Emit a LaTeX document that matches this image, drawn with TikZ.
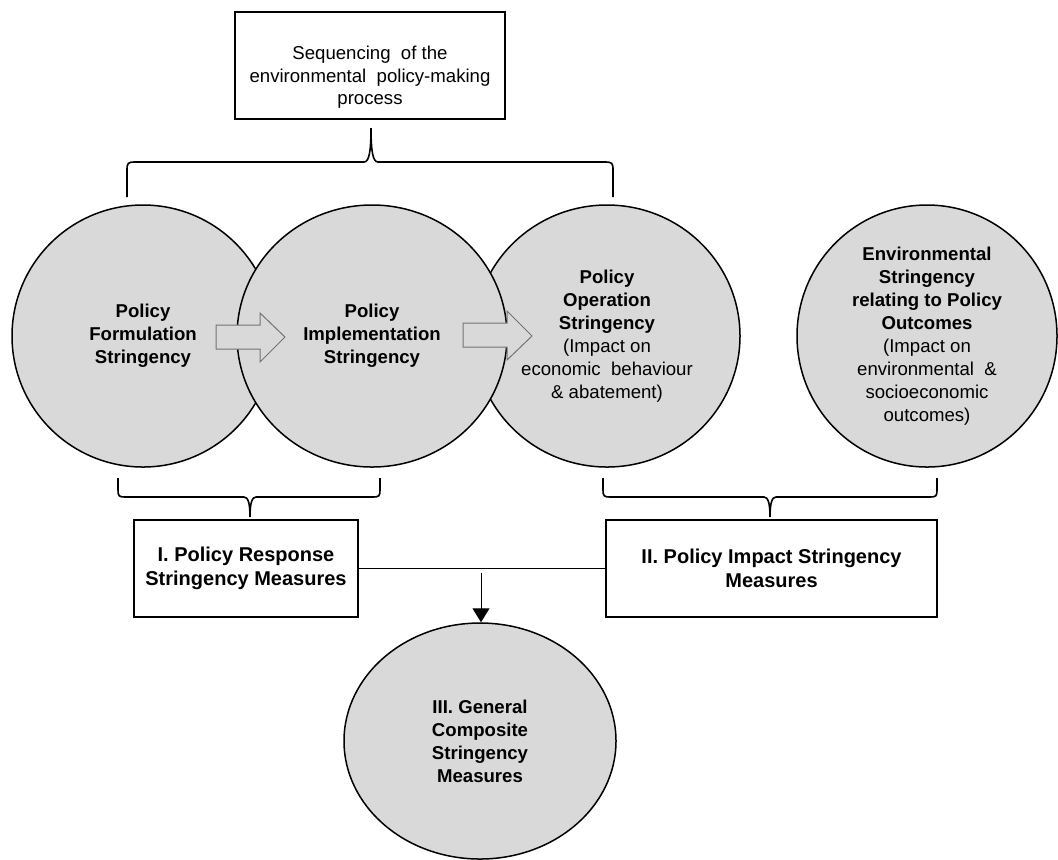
\documentclass[tikz,border=0pt]{standalone}
\usepackage{fontspec}
\setmainfont{Liberation Sans}
\usetikzlibrary{shapes.geometric,arrows.meta}
\definecolor{circlegray}{RGB}{217,217,217}
\definecolor{arrowgray}{RGB}{115,115,115}
\begin{document}
\begin{tikzpicture}[x=0.5pt,y=-0.5pt]
	\tikzset{circ/.style=
		{ellipse, draw=black, line width=0.75pt, fill=circlegray, inner sep=0pt, align=center, font=\fontsize{9.3}{11.5}\selectfont},
		box/.style={draw=black, line width=0.9pt, inner sep=0pt, align=center},
		bracket/.style={line width=0.8pt},
		blockarrow/.style={draw=arrowgray, fill=circlegray, line width=0.5pt}
	}
	\useasboundingbox (0,0) rectangle (1058,859);
	\node (root) at (370,65.5) [box, minimum width=135pt, minimum height=53.5pt] {};
	\node (roottext) at (370,77.5) [align=center, font=\fontsize{9.3}{11.25}\selectfont] {Sequencing~ of the\\environmental~ policy-making\\process};
	\node (l1n1) at (143,336) [circ, minimum width=131pt, minimum height=131pt, font=\fontsize{9.3}{11.5}\selectfont\bfseries] {Policy\\Formulation\\Stringency};
	\node (l1n3) at (607,336) [circ, minimum width=133pt, minimum height=131pt] {\textbf{Policy}\\\textbf{Operation}\\\textbf{Stringency}\\(Impact on\\economic~ behaviour\\\& abatement)};
	\node (l1n4) at (927,336) [circ, minimum width=130pt, minimum height=131pt] {\textbf{Environmental}\\\textbf{Stringency}\\\textbf{relating to Policy}\\\textbf{Outcomes}\\(Impact on\\environmental~ \&\\socioeconomic\\outcomes)};
	\node (l1n2) at (372,336) [circ, minimum width=135pt, minimum height=131pt, font=\fontsize{9.3}{11.5}\selectfont\bfseries] {Policy\\Implementation\\Stringency};
	\node (l2n1) at (246,568.5) [box, minimum width=112pt, minimum height=48.5pt, font=\fontsize{10}{12}\selectfont\bfseries] {I. Policy Response\\Stringency Measures};
	\node (l2n2) at (771.5,568.5) [box, minimum width=165.5pt, minimum height=48.5pt, font=\fontsize{10}{12}\selectfont\bfseries] {II. Policy Impact Stringency\\Measures};
	\node (l3n1) at (480,741) [circ, minimum width=136pt, minimum height=118pt, font=\fontsize{9.3}{11.5}\selectfont\bfseries] {III. General\\Composite\\Stringency\\Measures};
	\coordinate (split) at (481,573);

	\draw[blockarrow] (216,325) -- (260,325) -- (260,313) -- (285,337) -- (260,362) -- (260,349) -- (216,349) -- cycle;
	\draw[blockarrow] (463,323) -- (507,323) -- (507,311) -- (532,336) -- (507,360) -- (507,347) -- (463,347) -- cycle;

	\draw[bracket] (127,197) -- (127,170) .. controls (127,163) and (128,162) .. (135,162) -- (364,162) .. controls (369,162) and (371,152) .. (371,128) .. controls (371,152) and (373,162) .. (378,162) -- (605,162) .. controls (612,162) and (613,163) .. (613,170) -- (613,197);
	\draw[bracket] (118,478) -- (118,490) .. controls (118,496) and (119,497) .. (125,497) -- (244,497) .. controls (248,497) and (250,503) .. (250,517) .. controls (250,503) and (252,497) .. (256,497) -- (373,497) .. controls (379,497) and (380,496) .. (380,490) -- (380,478);
	\draw[bracket] (603,478) -- (603,490) .. controls (603,496) and (604,497) .. (610,497) -- (764,497) .. controls (768,497) and (770,503) .. (770,517) .. controls (770,503) and (772,497) .. (776,497) -- (930,497) .. controls (936,497) and (937,496) .. (937,490) -- (937,478);

	\draw[line width=0.5pt] (l2n1.east) -- (l2n2.west);
	\draw[line width=0.5pt, -{Triangle[width=8.5pt,length=7pt]}] (split) -- (split |- l3n1.north);
\end{tikzpicture}
\end{document}
